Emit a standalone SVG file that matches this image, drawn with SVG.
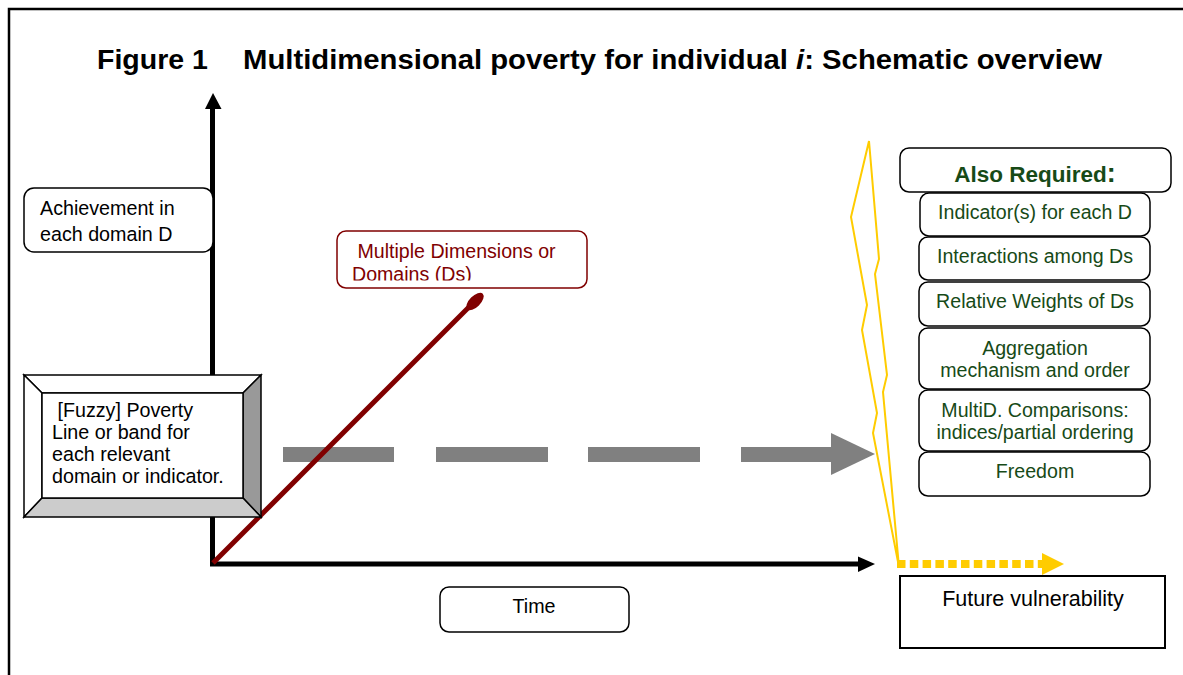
<svg xmlns="http://www.w3.org/2000/svg" width="1183" height="675" viewBox="0 0 1183 675">
<style>
  text { font-family: "Liberation Sans", Arial, sans-serif; }
  .t { font-size: 19.7px; fill: #000; }
  .g { font-size: 19.6px; fill: #174a17; text-anchor: middle; }
  .r { font-size: 19.6px; fill: #800000; }
  .box { fill: #fff; stroke: #000; stroke-width: 1.5; }
  .sub { fill: #fff; stroke: #000; stroke-width: 1.5; }
  .gray { fill: #808080; }
</style>
<defs>
  <clipPath id="mdclip"><rect x="337" y="231" width="250" height="49.5"/></clipPath>
</defs>
<rect width="1183" height="675" fill="#fff"/>
<g id="frame">
  <path d="M9,675 V9 H1183" fill="none" stroke="#000" stroke-width="2.5"/>
</g>
<g id="title">
  <text x="97" y="69" font-size="28.5" font-weight="bold">Figure 1</text>
  <text x="243" y="69" font-size="28.5" font-weight="bold" textLength="859" lengthAdjust="spacingAndGlyphs">Multidimensional poverty for individual <tspan font-style="italic">i</tspan>: Schematic overview</text>
</g>
<g id="connectors">
  <!-- axes -->
  <line x1="212.5" y1="566" x2="212.5" y2="108" stroke="#000" stroke-width="5"/>
  <polygon points="213,93 205,109 221.5,109" fill="#000"/>
  <line x1="210" y1="564" x2="859" y2="564" stroke="#000" stroke-width="5"/>
  <polygon points="875,564 858,556.5 858,572" fill="#000"/>
  <!-- gray dashed arrow -->
  <rect class="gray" x="283" y="447" width="111" height="15"/>
  <rect class="gray" x="436" y="447" width="112" height="15"/>
  <rect class="gray" x="588" y="447" width="112" height="15"/>
  <rect class="gray" x="741" y="447" width="91" height="15"/>
  <polygon class="gray" points="831,433 875,454 831,475"/>
  <!-- red dimension line -->
  <line x1="213" y1="563" x2="470" y2="306" stroke="#800000" stroke-width="5"/>
  <ellipse cx="475" cy="301.5" rx="11" ry="5.5" transform="rotate(-45 475 301.5)" fill="#800000"/>
  <!-- yellow brace -->
  <polygon points="869,141 879,259 875,274 887,375 883,392 899,567 873,433 877,413 862,330 867,305 851,217" fill="none" stroke="#FFCC00" stroke-width="2"/>
  <!-- yellow dashed arrow -->
  <line x1="897" y1="564" x2="1042" y2="564" stroke="#FFCC00" stroke-width="8" stroke-dasharray="8.5 4.3"/>
  <polygon points="1042,553 1064,564 1042,575" fill="#FFCC00"/>
</g>
<g id="achievement">
  <rect class="box" x="24" y="188" width="189" height="64" rx="10"/>
  <text class="t" x="40" y="215">Achievement in</text>
  <text class="t" x="40" y="241">each domain D</text>
</g>
<g id="fuzzy">
  <polygon points="24,375 261,375 243,393 42,393" fill="#fff" stroke="#000" stroke-width="1.5"/>
  <polygon points="24,375 42,393 42,498 24,517" fill="#fff" stroke="#000" stroke-width="1.5"/>
  <polygon points="261,375 261,517 243,498 243,393" fill="#999" stroke="#000" stroke-width="1.5"/>
  <polygon points="24,517 42,498 243,498 261,517" fill="#ccc" stroke="#000" stroke-width="1.5"/>
  <rect x="42" y="393" width="201" height="105" fill="#fff" stroke="#000" stroke-width="1.5"/>
  <text class="t" x="52" y="417" xml:space="preserve"> [Fuzzy] Poverty</text>
  <text class="t" x="52" y="439">Line or band for</text>
  <text class="t" x="52" y="461">each relevant</text>
  <text class="t" x="52" y="483">domain or indicator.</text>
</g>
<g id="dimensions">
  <rect x="337" y="231" width="250" height="57" rx="9" fill="#fff" stroke="#800000" stroke-width="1.5"/>
  <g clip-path="url(#mdclip)">
    <text class="r" x="352" y="257.5" xml:space="preserve"> Multiple Dimensions or</text>
    <text class="r" x="352" y="281">Domains (Ds)</text>
  </g>
</g>
<g id="time">
  <rect class="box" x="440" y="587" width="189" height="45" rx="9"/>
  <text class="t" x="534" y="613" text-anchor="middle">Time</text>
</g>
<g id="also-required">
  <rect class="box" x="900" y="148" width="271" height="44" rx="9"/>
  <text x="1035" y="182" text-anchor="middle" font-size="22.5" font-weight="bold" fill="#174a17">Also Required<tspan font-size="27">:</tspan></text>
</g>
<g id="indicators">
  <rect class="sub" x="920" y="193" width="230" height="43" rx="9"/>
  <text class="g" x="1035" y="219">Indicator(s) for each D</text>
</g>
<g id="interactions">
  <rect class="sub" x="919" y="237" width="231" height="43" rx="9"/>
  <text class="g" x="1035" y="263">Interactions among Ds</text>
</g>
<g id="weights">
  <rect class="sub" x="919" y="282" width="231" height="44" rx="9"/>
  <text class="g" x="1035" y="308">Relative Weights of Ds</text>
</g>
<g id="aggregation">
  <rect class="sub" x="919" y="328" width="231" height="61" rx="9"/>
  <text class="g" x="1035" y="355">Aggregation</text>
  <text class="g" x="1035" y="377">mechanism and order</text>
</g>
<g id="comparisons">
  <rect class="sub" x="919" y="390" width="231" height="61" rx="9"/>
  <text class="g" x="1035" y="417">MultiD. Comparisons:</text>
  <text class="g" x="1035" y="439">indices/partial ordering</text>
</g>
<g id="freedom">
  <rect class="sub" x="919" y="452" width="231" height="44" rx="9"/>
  <text class="g" x="1035" y="478">Freedom</text>
</g>
<g id="vulnerability">
  <rect x="900" y="576" width="265" height="72" fill="#fff" stroke="#000" stroke-width="2"/>
  <text x="1033" y="606" text-anchor="middle" font-size="21.5" fill="#000">Future vulnerability</text>
</g>
</svg>
